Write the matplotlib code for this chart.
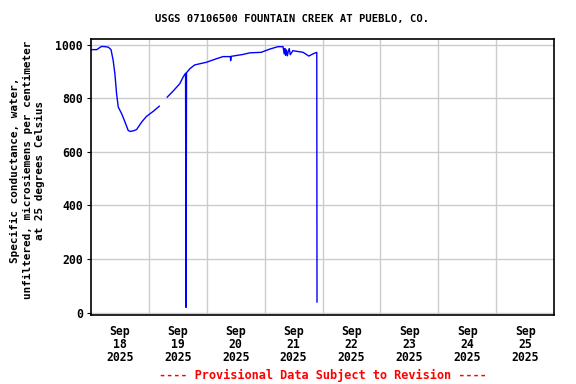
import numpy as np
import matplotlib
matplotlib.use("Agg")
import matplotlib.pyplot as plt
import datetime as dt

# hours after 2025-09-18 00:00, specific conductance (uS/cm)
hours_a = [0.0, 0.3, 2.4, 3.5, 4.4, 6.0, 7.2, 8.3, 9.2, 9.9, 10.6, 11.3, 12.7,
           14.1, 15.4, 16.2, 17.5, 18.9, 21.0, 23.0, 25.8, 28.3]
cond_a = [980, 981, 981, 988, 993, 992, 990, 981, 940, 891, 817, 767, 742,
          711, 680, 676, 678, 683, 711, 732, 751, 770]

hours_b = [31.6, 34.1, 36.8, 38.2, 39.2, 39.3, 39.4, 39.5, 39.6, 41.0, 43.0,
           47.9, 52.0, 54.7, 57.5, 57.8, 57.9, 58.1, 63.0, 65.8, 70.6, 74.1,
           77.5, 79.6, 80.1, 80.4, 80.7, 81.0, 81.4, 81.8, 82.2, 82.6, 83.7,
           87.9, 90.3, 92.0, 93.6, 93.7]
cond_b = [804, 827, 854, 879, 893, 460, 20, 460, 895, 910, 924,
          934, 947, 955, 955, 955, 940, 956, 963, 969, 971, 983,
          992, 992, 965, 985, 960, 980, 958, 975, 985, 962, 977,
          971, 957, 965, 971, 40]

start = dt.datetime(2025, 9, 18)
days = [start + dt.timedelta(days=i) for i in range(9)]
tick_pos = [d + dt.timedelta(hours=12) for d in days[:8]]
tick_lab = ["Sep\n%d\n2025" % d.day for d in days[:8]]
yticks = [0, 200, 400, 600, 800, 1000]

font = "DejaVu Sans Mono"

fig = plt.figure(figsize=(5.76, 3.84), dpi=100)
ax = fig.add_axes([0.158, 0.180, 0.804, 0.718])

xa = [start + dt.timedelta(hours=h) for h in hours_a]
xb = [start + dt.timedelta(hours=h) for h in hours_b]
ax.plot(xa, cond_a, color="#0000ff", lw=1.0)
ax.plot(xb, cond_b, color="#0000ff", lw=1.0)

ax.set_xlim(days[0], days[-1])
ax.set_ylim(-8, 1020)
ax.set_xticks(days[1:-1], minor=True)
ax.set_xticks(tick_pos)
ax.set_xticklabels(tick_lab, fontfamily=font, fontweight="bold", fontsize=8.3,
                   linespacing=1.0)
ax.set_yticks(yticks)
ax.set_yticklabels([str(v) for v in yticks], fontfamily=font,
                   fontweight="bold", fontsize=8.3)
ax.tick_params(axis="x", which="both", length=0, pad=7)
ax.tick_params(axis="y", length=3, pad=3)
ax.grid(True, which="minor", axis="x", color="#cccccc", lw=1)
ax.grid(True, which="major", axis="y", color="#cccccc", lw=1)
ax.set_axisbelow(True)
for s in ax.spines.values():
    s.set_linewidth(1.2)

fig.text(0.507, 0.9505, "USGS 07106500 FOUNTAIN CREEK AT PUEBLO, CO.",
         ha="center", va="center", fontfamily=font, fontweight="bold",
         fontsize=7.6)
ax.set_ylabel("Specific conductance, water,\nunfiltered, microsiemens per centimeter\nat 25 degrees Celsius",
              fontfamily=font, fontweight="bold", fontsize=7.9, linespacing=1.3)
ax.yaxis.set_label_coords(-0.099, 0.525)
fig.text(0.56, 0.0234, "---- Provisional Data Subject to Revision ----",
         color="red", ha="center", va="center", fontfamily=font,
         fontweight="bold", fontsize=8.6)

fig.savefig("out.png", dpi=100)
